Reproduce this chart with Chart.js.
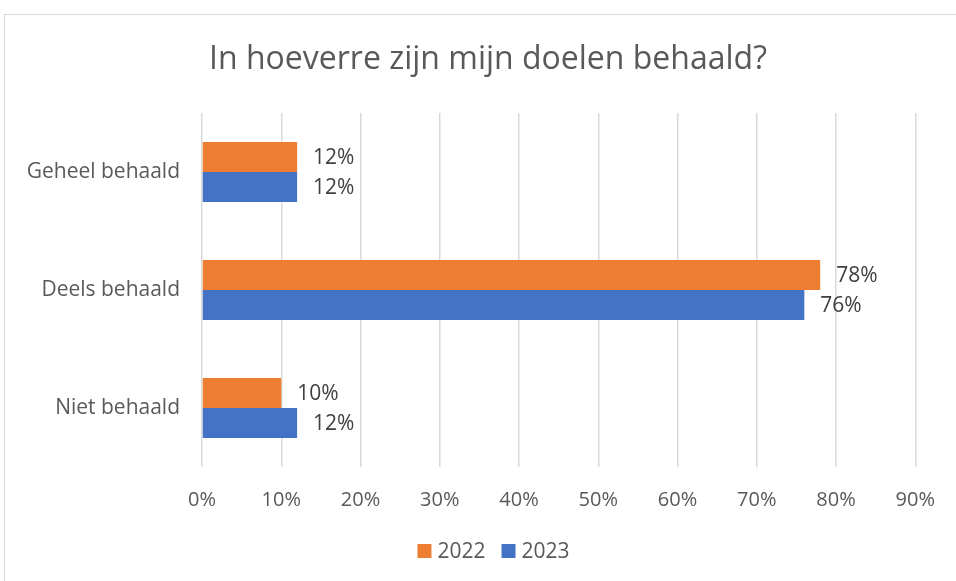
<!DOCTYPE html>
<html>
<head>
<meta charset="utf-8">
<script src="https://cdn.jsdelivr.net/npm/chart.js@4/dist/chart.umd.min.js"></script>
<style>
html,body{margin:0;padding:0;background:#fff;}
#wrap{width:956px;height:581px;}
</style>
</head>
<body>
<div id="wrap"><canvas id="c" width="956" height="581"></canvas></div>
<script>
const categories = ["Geheel behaald", "Deels behaald", "Niet behaald"];
const series2022 = [12, 78, 10];
const series2023 = [12, 76, 12];
const seriesNames = ["2022", "2023"];
const titleText = "In hoeverre zijn mijn doelen behaald?";
const xTickMax = 90;
const xTickStep = 10;

const FONT = "'Open Sans', 'Noto Sans', sans-serif";

const bgBorder = {
  id: 'bgBorder',
  beforeDraw(chart) {
    const ctx = chart.ctx;
    ctx.save();
    ctx.fillStyle = '#fff';
    ctx.fillRect(0, 0, chart.width, chart.height);
    ctx.strokeStyle = '#D9D9D9';
    ctx.lineWidth = 1;
    ctx.strokeRect(4.5, 14.5, chart.width + 20, chart.height + 20);
    ctx.restore();
  }
};

// Title centred on the full chart frame (which extends past the right edge)
const frameTitle = {
  id: 'frameTitle',
  afterDraw(chart) {
    const ctx = chart.ctx;
    ctx.save();
    ctx.font = "32px " + FONT;
    ctx.fillStyle = '#595959';
    ctx.textAlign = 'center';
    ctx.textBaseline = 'middle';
    ctx.fillText(titleText, 488, 60);
    ctx.restore();
  }
};

// Legend centred on the full chart frame
const frameLegend = {
  id: 'frameLegend',
  afterDraw(chart) {
    const ctx = chart.ctx;
    ctx.save();
    ctx.font = "21px " + FONT;
    ctx.textBaseline = 'middle';
    ctx.textAlign = 'left';
    const box = 14, gap = 6, itemGap = 16;
    const items = chart.data.datasets.map(ds => ({ text: ds.label, color: ds.backgroundColor, w: ctx.measureText(ds.label).width }));
    let total = items.reduce((s, it) => s + box + gap + it.w, 0) + itemGap * (items.length - 1);
    let x = 493.5 - total / 2;
    const y = 551;
    items.forEach(it => {
      ctx.fillStyle = it.color;
      ctx.fillRect(x, y - box / 2, box, box);
      ctx.fillStyle = '#595959';
      ctx.fillText(it.text, x + box + gap, y + 1);
      x += box + gap + it.w + itemGap;
    });
    ctx.restore();
  }
};

const valueLabels = {
  id: 'valueLabels',
  afterDatasetsDraw(chart) {
    const ctx = chart.ctx;
    ctx.save();
    ctx.font = "21px " + FONT;
    ctx.fillStyle = '#404040';
    ctx.textAlign = 'left';
    ctx.textBaseline = 'middle';
    chart.data.datasets.forEach((ds, di) => {
      const meta = chart.getDatasetMeta(di);
      meta.data.forEach((el, i) => {
        ctx.fillText(ds.data[i] + '%', el.x + 16, el.y + 1);
      });
    });
    ctx.restore();
  }
};

new Chart(document.getElementById('c'), {
  type: 'bar',
  data: {
    labels: categories,
    datasets: [
      { label: seriesNames[0], data: series2022, backgroundColor: '#ED7D31', categoryPercentage: 0.51, barPercentage: 1.0 },
      { label: seriesNames[1], data: series2023, backgroundColor: '#4472C4', categoryPercentage: 0.51, barPercentage: 1.0 }
    ]
  },
  options: {
    indexAxis: 'y',
    responsive: false,
    animation: false,
    devicePixelRatio: 1,
    layout: { padding: { left: 0, right: 37, top: 113, bottom: 50 } },
    plugins: {
      title: { display: false },
      legend: { display: false },
      tooltip: { enabled: false }
    },
    scales: {
      x: {
        min: 0,
        max: xTickMax,
        ticks: {
          stepSize: xTickStep,
          color: '#595959',
          font: { family: FONT, size: 20 },
          padding: 21,
          callback: v => v + '%'
        },
        grid: { color: '#D9D9D9', lineWidth: 1.5, drawTicks: false },
        border: { display: false },
        afterFit(scale) { scale.height = 64; }
      },
      y: {
        ticks: {
          color: '#595959',
          font: { family: FONT, size: 21 },
          padding: 22
        },
        grid: { display: false, drawTicks: false },
        border: { display: false },
        afterFit(scale) { scale.width = 202; }
      }
    }
  },
  plugins: [bgBorder, valueLabels, frameTitle, frameLegend]
});
</script>
</body>
</html>
